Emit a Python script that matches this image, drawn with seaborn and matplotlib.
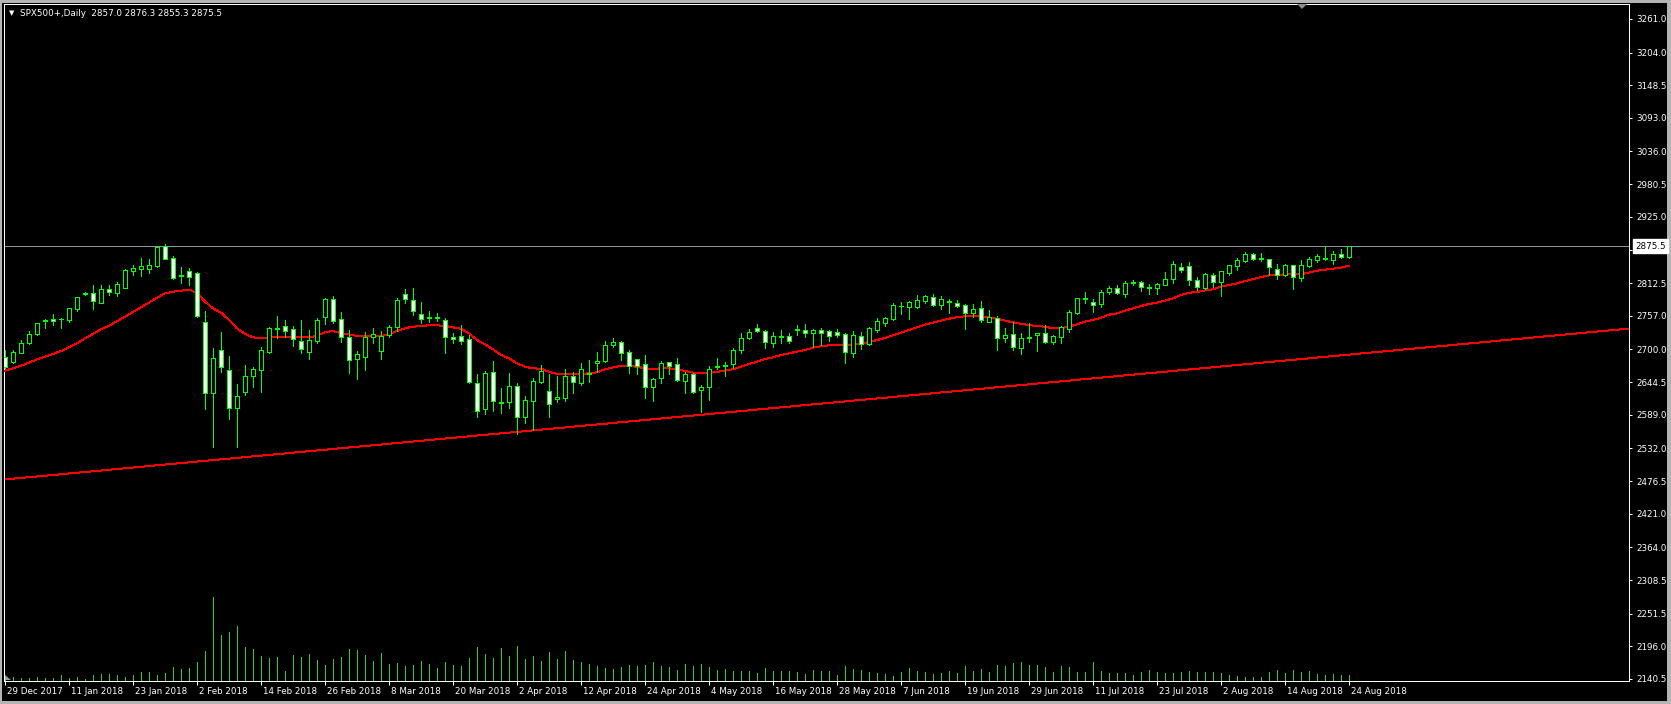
import numpy as np
import pandas as pd
import matplotlib
matplotlib.use("Agg")
import matplotlib.pyplot as plt
import matplotlib.transforms as mtransforms
from matplotlib.patches import Rectangle, Polygon
import seaborn as sns

# ---------------- data ----------------
symbol_title = "SPX500+,Daily  2857.0 2876.3 2855.3 2875.5"

open_ = [2687.7, 2679.2, 2694.5, 2710.3, 2725.6, 2747.7, 2751.1, 2751.0, 2749.9, 2768.6,
         2794.5, 2795.2, 2779.4, 2802.0, 2796.3, 2804.8, 2833.7, 2837.1, 2837.1, 2842.2,
         2875.6, 2854.6, 2825.5, 2833.7, 2829.2, 2746.0, 2625.4, 2698.4, 2664.5, 2600.0,
         2628.3, 2655.4, 2664.5, 2695.0, 2735.2, 2739.7, 2734.1, 2714.3, 2696.2, 2714.8,
         2754.5, 2785.0, 2751.1, 2720.5, 2683.2, 2686.5, 2720.5, 2697.3, 2723.9, 2738.6,
         2793.5, 2783.9, 2760.7, 2754.5, 2753.5, 2749.9, 2721.7, 2722.2, 2717.1, 2642.4,
         2598.3, 2661.1, 2609.0, 2611.3, 2637.9, 2584.7, 2613.0, 2645.3, 2628.9, 2615.3,
         2617.0, 2654.9, 2643.6, 2658.4, 2676.4, 2680.9, 2707.0, 2712.0, 2695.1, 2683.2,
         2674.7, 2636.8, 2652.1, 2678.1, 2674.7, 2647.0, 2658.3, 2630.6, 2635.6, 2670.2,
         2671.9, 2674.7, 2699.0, 2720.0, 2735.8, 2731.3, 2711.5, 2721.2, 2722.2, 2733.6,
         2733.0, 2727.3, 2733.0, 2731.3, 2729.6, 2725.6, 2693.3, 2722.2, 2709.2, 2733.0,
         2745.4, 2751.6, 2773.2, 2772.6, 2772.6, 2782.8, 2788.4, 2776.0, 2781.6, 2779.4,
         2774.8, 2762.4, 2769.7, 2747.1, 2752.8, 2719.9, 2725.6, 2703.0, 2720.0, 2723.9,
         2727.3, 2713.1, 2720.5, 2735.2, 2761.2, 2785.6, 2780.5, 2776.5, 2798.0, 2803.7,
         2794.6, 2813.4, 2814.4, 2805.0, 2804.8, 2809.9, 2819.0, 2839.3, 2841.6, 2817.3,
         2804.3, 2826.3, 2813.9, 2830.3, 2841.6, 2850.7, 2862.0, 2853.6, 2852.9, 2835.9,
         2826.3, 2843.3, 2821.8, 2841.6, 2851.8, 2854.1, 2851.8, 2862.0, 2857.0]
high_ = [2699.0, 2699.0, 2716.0, 2731.3, 2745.4, 2751.0, 2759.6, 2752.8, 2770.9, 2789.5,
         2798.0, 2809.3, 2809.3, 2808.8, 2814.4, 2835.9, 2843.3, 2854.6, 2852.9, 2875.6,
         2878.4, 2858.6, 2839.3, 2837.6, 2832.0, 2765.2, 2702.4, 2729.0, 2688.8, 2641.3,
         2673.5, 2670.7, 2704.7, 2738.6, 2756.7, 2749.9, 2739.7, 2749.9, 2733.0, 2753.9,
         2787.3, 2790.1, 2764.1, 2733.0, 2697.3, 2729.0, 2736.9, 2731.3, 2741.4, 2786.7,
         2803.1, 2804.3, 2780.5, 2765.2, 2762.4, 2752.8, 2727.3, 2740.9, 2724.5, 2658.3,
         2663.4, 2680.4, 2634.0, 2659.4, 2643.6, 2620.9, 2650.9, 2673.0, 2658.3, 2654.9,
         2666.8, 2662.2, 2676.4, 2682.1, 2696.2, 2714.3, 2718.8, 2714.3, 2699.0, 2684.3,
         2690.5, 2652.1, 2680.4, 2679.2, 2686.0, 2662.2, 2660.5, 2639.6, 2671.9, 2686.0,
         2678.7, 2701.9, 2728.5, 2734.1, 2742.6, 2733.0, 2730.2, 2733.0, 2727.3, 2741.5,
         2743.2, 2734.7, 2736.4, 2733.0, 2734.1, 2727.3, 2731.3, 2729.6, 2738.6, 2752.8,
         2755.6, 2778.2, 2780.5, 2782.2, 2791.8, 2791.8, 2794.1, 2790.7, 2786.1, 2783.9,
         2777.1, 2776.5, 2782.2, 2766.9, 2756.7, 2735.8, 2746.0, 2727.3, 2744.3, 2728.4,
         2740.9, 2724.5, 2739.7, 2766.9, 2788.0, 2797.5, 2786.1, 2800.9, 2808.2, 2808.8,
         2816.7, 2817.8, 2816.7, 2811.0, 2813.3, 2831.4, 2849.5, 2846.1, 2847.8, 2822.4,
         2829.2, 2829.2, 2833.5, 2843.8, 2855.2, 2864.8, 2863.1, 2864.2, 2854.1, 2845.0,
         2845.0, 2844.0, 2851.8, 2857.5, 2862.0, 2873.3, 2867.6, 2870.5, 2876.3]
low_ = [2668.5, 2676.4, 2693.3, 2708.6, 2725.0, 2736.9, 2741.4, 2736.9, 2747.1, 2765.8,
        2791.8, 2768.6, 2778.2, 2792.4, 2791.2, 2804.0, 2826.3, 2824.6, 2830.3, 2840.5,
        2852.9, 2819.0, 2812.2, 2809.3, 2755.6, 2598.8, 2533.8, 2662.2, 2581.3, 2533.8,
        2622.6, 2636.7, 2628.3, 2693.3, 2718.8, 2720.5, 2705.8, 2694.5, 2684.3, 2711.4,
        2743.1, 2744.8, 2713.1, 2660.5, 2649.2, 2665.0, 2711.4, 2683.2, 2720.5, 2731.8,
        2779.4, 2758.4, 2745.4, 2747.1, 2748.2, 2694.5, 2710.3, 2709.2, 2642.4, 2585.8,
        2590.4, 2595.5, 2592.6, 2601.1, 2556.0, 2575.7, 2563.0, 2643.6, 2585.8, 2611.3,
        2613.0, 2626.6, 2639.6, 2645.3, 2662.2, 2679.2, 2704.7, 2682.1, 2660.5, 2658.3,
        2618.1, 2612.4, 2642.4, 2658.3, 2646.4, 2626.6, 2626.6, 2594.3, 2614.1, 2666.2,
        2655.5, 2669.0, 2694.5, 2717.1, 2729.6, 2703.0, 2704.7, 2711.5, 2710.3, 2724.5,
        2721.7, 2704.7, 2707.5, 2714.9, 2720.5, 2676.4, 2687.7, 2700.7, 2707.5, 2730.1,
        2739.7, 2749.9, 2760.1, 2752.2, 2769.7, 2779.4, 2773.7, 2768.0, 2762.4, 2772.6,
        2734.1, 2754.5, 2746.0, 2747.1, 2699.0, 2713.1, 2699.0, 2691.6, 2713.1, 2697.9,
        2710.3, 2709.2, 2711.4, 2730.1, 2760.5, 2779.4, 2764.1, 2772.6, 2794.1, 2794.1,
        2789.5, 2809.3, 2799.7, 2794.1, 2794.1, 2808.8, 2813.3, 2832.0, 2808.8, 2801.4,
        2803.1, 2806.0, 2790.7, 2825.8, 2834.8, 2849.0, 2851.8, 2850.7, 2826.3, 2819.0,
        2824.6, 2802.0, 2816.7, 2840.5, 2849.0, 2851.8, 2845.0, 2854.6, 2855.3]
close_ = [2670.7, 2695.0, 2710.3, 2725.6, 2744.3, 2749.9, 2747.7, 2752.0, 2769.7, 2788.4,
          2795.5, 2782.8, 2802.0, 2796.9, 2811.0, 2834.8, 2837.6, 2841.6, 2842.7, 2873.3,
          2854.1, 2821.8, 2824.6, 2823.5, 2757.3, 2625.4, 2684.9, 2670.7, 2600.0, 2620.3,
          2654.9, 2666.2, 2698.4, 2736.3, 2736.3, 2731.3, 2717.1, 2700.1, 2716.0, 2749.9,
          2785.6, 2747.7, 2720.5, 2681.5, 2691.6, 2720.5, 2725.6, 2723.3, 2738.6, 2783.3,
          2785.0, 2764.6, 2752.2, 2753.5, 2754.2, 2720.5, 2717.1, 2714.9, 2645.3, 2596.0,
          2659.4, 2613.0, 2610.2, 2637.9, 2584.7, 2613.6, 2645.8, 2663.4, 2606.8, 2618.7,
          2654.9, 2644.1, 2666.2, 2660.4, 2680.4, 2707.0, 2712.0, 2693.4, 2672.4, 2672.4,
          2636.8, 2649.8, 2676.4, 2672.4, 2647.5, 2658.3, 2628.3, 2636.2, 2666.8, 2671.2,
          2672.9, 2699.0, 2718.8, 2729.6, 2731.3, 2712.0, 2722.8, 2722.2, 2713.7, 2734.6,
          2727.3, 2733.0, 2728.5, 2722.2, 2725.1, 2695.1, 2724.5, 2709.2, 2735.8, 2747.7,
          2753.3, 2774.8, 2774.2, 2779.9, 2783.9, 2790.1, 2776.0, 2785.0, 2780.6, 2774.3,
          2762.4, 2768.0, 2749.9, 2755.0, 2719.9, 2724.5, 2704.7, 2719.4, 2721.0, 2727.3,
          2713.1, 2722.8, 2737.5, 2762.9, 2787.3, 2786.6, 2774.8, 2797.5, 2804.3, 2795.2,
          2813.3, 2814.4, 2805.4, 2806.0, 2811.0, 2819.0, 2845.0, 2834.8, 2818.4, 2805.4,
          2827.5, 2815.0, 2833.1, 2843.3, 2851.8, 2862.0, 2854.1, 2854.6, 2839.3, 2825.8,
          2843.3, 2823.5, 2842.7, 2852.9, 2858.6, 2855.1, 2861.4, 2857.5, 2875.5]
ma_ = [2663.9, 2667.9, 2672.4, 2677.5, 2683.2, 2687.7, 2692.2, 2697.3, 2703.5, 2710.3,
       2718.8, 2726.2, 2734.1, 2740.3, 2747.7, 2755.6, 2763.5, 2771.4, 2779.4, 2787.8,
       2795.2, 2798.0, 2799.7, 2801.4, 2796.3, 2781.1, 2769.7, 2762.4, 2749.9, 2735.8,
       2726.2, 2720.5, 2718.8, 2720.5, 2721.6, 2721.6, 2721.6, 2720.5, 2720.5, 2723.3,
       2729.0, 2731.3, 2727.3, 2725.6, 2722.8, 2722.2, 2722.8, 2722.8, 2725.6, 2731.3,
       2735.8, 2738.6, 2739.7, 2740.9, 2740.9, 2740.0, 2737.5, 2735.2, 2727.3, 2716.0,
       2708.7, 2700.2, 2690.5, 2684.9, 2676.4, 2670.7, 2667.9, 2667.3, 2662.2, 2658.3,
       2657.7, 2657.7, 2658.3, 2659.4, 2661.1, 2666.2, 2669.6, 2671.9, 2671.9, 2670.7,
       2667.9, 2666.8, 2667.9, 2667.9, 2666.2, 2663.4, 2660.5, 2659.4, 2660.5, 2661.7,
       2663.9, 2666.2, 2670.7, 2675.3, 2679.2, 2683.8, 2686.6, 2690.5, 2693.4, 2696.2,
       2699.0, 2703.0, 2705.3, 2707.0, 2708.1, 2707.5, 2708.6, 2709.2, 2712.6, 2716.0,
       2719.4, 2723.9, 2728.4, 2733.0, 2737.5, 2742.0, 2745.4, 2748.8, 2752.2, 2754.5,
       2756.2, 2757.3, 2756.7, 2754.5, 2752.2, 2748.8, 2746.0, 2743.7, 2741.4, 2739.7,
       2738.6, 2735.8, 2736.3, 2738.6, 2742.6, 2747.1, 2749.9, 2753.9, 2759.0, 2761.2,
       2765.8, 2769.7, 2773.7, 2777.1, 2779.4, 2782.8, 2786.7, 2792.4, 2796.3, 2797.5,
       2800.3, 2802.0, 2806.5, 2809.3, 2812.2, 2816.1, 2819.5, 2822.9, 2825.5, 2826.3,
       2827.5, 2827.5, 2828.0, 2830.3, 2833.7, 2835.4, 2837.1, 2838.8, 2842.2]
volume_ = [4, 4, 3, 3, 4, 3, 3, 6, 3, 4, 2, 6, 7, 7, 6, 4, 6, 9, 9, 6,
           8, 14, 12, 13, 19, 30, 84, 46, 49, 55, 34, 32, 25, 23, 24, 10, 26, 24, 27, 21,
           16, 22, 24, 32, 31, 26, 20, 28, 17, 18, 15, 16, 20, 17, 13, 19, 16, 15, 23, 34,
           27, 23, 33, 25, 35, 22, 25, 20, 29, 22, 30, 21, 19, 17, 15, 13, 12, 14, 16, 15,
           16, 19, 15, 14, 11, 17, 15, 17, 14, 11, 12, 10, 10, 10, 8, 13, 10, 10, 10, 9,
           7, 11, 10, 10, 6, 15, 12, 11, 9, 8, 7, 5, 9, 13, 10, 9, 7, 8, 10, 8,
           15, 10, 12, 9, 16, 15, 18, 19, 16, 16, 14, 9, 15, 14, 9, 9, 19, 10, 8, 8,
           8, 6, 9, 11, 9, 8, 8, 9, 10, 9, 9, 9, 8, 6, 5, 4, 4, 4, 9, 11,
           8, 11, 9, 10, 7, 6, 7, 6, 6]
date_labels = ["29 Dec 2017", "11 Jan 2018", "23 Jan 2018", "2 Feb 2018", "14 Feb 2018",
               "26 Feb 2018", "8 Mar 2018", "20 Mar 2018", "2 Apr 2018", "12 Apr 2018",
               "24 Apr 2018", "4 May 2018", "16 May 2018", "28 May 2018", "7 Jun 2018",
               "19 Jun 2018", "29 Jun 2018", "11 Jul 2018", "23 Jul 2018", "2 Aug 2018",
               "14 Aug 2018", "24 Aug 2018"]
price_ticks = [3261.0, 3204.0, 3148.5, 3093.0, 3036.0, 2980.5, 2925.0, 2868.5, 2812.5,
               2757.0, 2700.0, 2644.5, 2589.0, 2532.0, 2476.5, 2421.0, 2364.0, 2308.5,
               2251.5, 2196.0, 2140.5]
last_price = 2875.5
trend_bars = [0, 168]
trend_values = [2479.3, 2691.2]

# ---------------- styling ----------------
sns.set_theme(style="dark")
plt.rcParams['font.family'] = ['DejaVu Sans']

W, H = 1671, 704
PX = 0.72  # one pixel in points at 100 dpi
fig = plt.figure(figsize=(W / 100, H / 100), dpi=100)
fig.patch.set_facecolor('#b4b4b4')
fig.add_artist(Rectangle((2 / W, 3 / H), (1667 - 2) / W, (701 - 3) / H,
                         transform=fig.transFigure, facecolor='black',
                         edgecolor='none', zorder=0))

df = pd.DataFrame({'o': open_, 'h': high_, 'l': low_, 'c': close_,
                   'ma': ma_, 'vol': volume_})
df['idx'] = np.arange(len(df))
bars_per_label = 8

pos = [4 / W, (H - 681) / H, (1629 - 4) / W, (681 - 4) / H]
xlim = (-0.125, 203.0)

# volume pane (same position, behind)
axv = fig.add_axes(pos)
axv.set_facecolor('black')
axv.set_xlim(*xlim)
axv.set_ylim(0, 677)
axv.vlines(df['idx'], 0, df['vol'], color='#32cd32', lw=PX, antialiased=False)
axv.set_xticks([]); axv.set_yticks([])
for s in axv.spines.values():
    s.set_visible(False)

# price pane
ax = fig.add_axes(pos)
ax.set_facecolor('none')
ax.set_xlim(*xlim)
ax.set_ylim(2137.1, 3286.4)

# moving average (seaborn)
sns.lineplot(data=df, x='idx', y='ma', ax=ax, color='#ff0000',
             estimator=None, sort=False, legend=False, zorder=3)
for ln in ax.lines:
    ln.set_antialiased(False)
    ln.set_linewidth(PX)

# trend line
ax.axline((trend_bars[0], trend_values[0]), (trend_bars[1], trend_values[1]),
          color='#ff0000', lw=PX, antialiased=False, zorder=2)

# last-price line
ax.axhline(last_price, color='#8a96a3', lw=PX, zorder=1, antialiased=False)

# candles
lime = '#00ff00'
ax.vlines(df['idx'], df['l'], df['h'], color=lime, lw=PX, zorder=4, antialiased=False)
bull = df['c'] >= df['o']
body_lo = np.minimum(df['o'], df['c'])
body_h = np.abs(df['c'] - df['o'])
ax.bar(df['idx'][bull], body_h[bull], bottom=body_lo[bull], width=0.55,
       color='black', edgecolor=lime, linewidth=PX, zorder=5, antialiased=False)
ax.bar(df['idx'][~bull], body_h[~bull], bottom=body_lo[~bull], width=0.55,
       color='white', edgecolor=lime, linewidth=PX, zorder=5, antialiased=False)

# spines / frame
for s in ax.spines.values():
    s.set_visible(True)
    s.set_color('white')
    s.set_linewidth(PX)

# y ticks on the right
ax.yaxis.tick_right()
ax.set_yticks(price_ticks)
ax.set_yticklabels([f"{v:.1f}" for v in price_ticks])
ax.tick_params(axis='y', colors='white', length=2.5, width=PX, pad=2.5,
               labelsize=6.3, direction='out', right=True, left=False)
ax.set_ylabel('')
ax.set_xlabel('')

# x ticks at bottom
tick_pos = [i * bars_per_label for i in range(len(date_labels))]
ax.set_xticks(tick_pos)
ax.set_xticklabels([])
ax.tick_params(axis='x', colors='white', length=3, width=PX, direction='out',
               bottom=True, top=False)
xtrans = mtransforms.offset_copy(ax.get_xaxis_transform(), fig=fig, x=2, y=-10,
                                 units='dots')
for p, lab in zip(tick_pos, date_labels):
    ax.text(p, 0, lab, transform=xtrans, ha='left', va='center', color='white',
            fontsize=6.3, clip_on=False)

# last price box on the axis
ytrans = mtransforms.blended_transform_factory(ax.transAxes, ax.transData)
ytrans = mtransforms.offset_copy(ytrans, fig=fig, x=6, y=0, units='dots')
ax.text(1.0, last_price, f"{last_price:.1f}", transform=ytrans, ha='left',
        va='center', color='black', fontsize=6.3, zorder=10, clip_on=False,
        bbox=dict(boxstyle='square,pad=0.25', facecolor='white', edgecolor='white'))

# title
fig.text(9 / W, 1 - 13.5 / H, "\u25bc", color='white', fontsize=5, ha='left', va='center')
fig.text(20 / W, 1 - 13.5 / H, symbol_title, color='white', fontsize=6.3,
         ha='left', va='center')

# small markers
fig.add_artist(Polygon([[1297 / W, 1 - 4 / H], [1307 / W, 1 - 4 / H], [1302 / W, 1 - 9 / H]],
                       closed=True, transform=fig.transFigure, facecolor='#8c8c8c',
                       edgecolor='none', zorder=20))
fig.add_artist(Polygon([[5 / W, (H - 675) / H], [5 / W, (H - 680) / H], [11 / W, (H - 680) / H]],
                       closed=True, transform=fig.transFigure, facecolor='#9aa0a8',
                       edgecolor='none', zorder=20))

fig.savefig('out.png', dpi=100, facecolor=fig.get_facecolor())
